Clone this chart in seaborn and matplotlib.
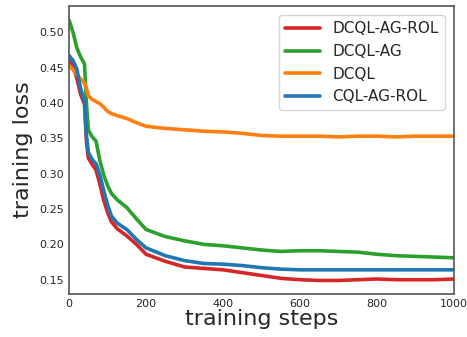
import pandas as pd
import seaborn as sns
import matplotlib.pyplot as plt

sns.set_style("white")
plt.rcParams['font.family'] = ['DejaVu Sans']

steps = [0, 10, 20, 30, 40, 45, 50, 60, 70, 80, 90, 100, 110, 125, 150, 175,
         200, 250, 300, 350, 400, 450, 500, 550, 600, 650, 700, 750, 800, 850,
         900, 950, 1000]

dcql_ag_rol = [0.463, 0.452, 0.435, 0.412, 0.398, 0.345, 0.322, 0.313, 0.305, 0.285,
               0.262, 0.245, 0.232, 0.222, 0.212, 0.200, 0.186, 0.176, 0.168, 0.166,
               0.164, 0.160, 0.156, 0.152, 0.150, 0.149, 0.149, 0.150, 0.151, 0.150,
               0.150, 0.150, 0.151]
dcql_ag = [0.517, 0.500, 0.478, 0.465, 0.455, 0.400, 0.362, 0.352, 0.346, 0.318,
           0.298, 0.283, 0.272, 0.263, 0.252, 0.236, 0.221, 0.211, 0.205, 0.200,
           0.198, 0.195, 0.192, 0.190, 0.191, 0.191, 0.190, 0.189, 0.186, 0.184,
           0.183, 0.182, 0.181]
dcql = [0.453, 0.447, 0.440, 0.434, 0.428, 0.420, 0.410, 0.405, 0.402, 0.399,
        0.394, 0.388, 0.385, 0.382, 0.378, 0.372, 0.367, 0.364, 0.362, 0.360,
        0.359, 0.357, 0.354, 0.353, 0.353, 0.353, 0.352, 0.353, 0.353, 0.352,
        0.353, 0.353, 0.353]
cql_ag_rol = [0.467, 0.460, 0.448, 0.420, 0.402, 0.355, 0.330, 0.320, 0.314, 0.298,
              0.276, 0.256, 0.240, 0.230, 0.221, 0.207, 0.195, 0.184, 0.177, 0.173,
              0.172, 0.170, 0.167, 0.165, 0.164, 0.164, 0.164, 0.164, 0.164, 0.164,
              0.164, 0.164, 0.164]

labels = ['DCQL-AG-ROL', 'DCQL-AG', 'DCQL', 'CQL-AG-ROL']
colors = ['#d62728', '#2ca02c', '#ff7f0e', '#1f77b4']

df = pd.concat([
    pd.DataFrame({'step': steps, 'loss': vals, 'method': name})
    for name, vals in zip(labels, [dcql_ag_rol, dcql_ag, dcql, cql_ag_rol])
])

fig = plt.figure(figsize=(4.67, 3.37), dpi=100)
ax = fig.add_axes([0.148, 0.128, 0.824, 0.854])
sns.lineplot(data=df, x='step', y='loss', hue='method', palette=colors,
             hue_order=labels, linewidth=2.6, ax=ax)
ax.set_xlim(0, 1000)
ax.set_ylim(0.13, 0.537)
ax.set_xticks([0, 200, 400, 600, 800, 1000])
ax.set_yticks([0.15, 0.20, 0.25, 0.30, 0.35, 0.40, 0.45, 0.50])
ax.tick_params(labelsize=8, length=0, pad=4)
ax.set_xlabel('training steps', fontsize=16, labelpad=0)
ax.set_ylabel('training loss', fontsize=16, labelpad=4)
for s in ax.spines.values():
    s.set_color('#555555')
    s.set_linewidth(1.2)
leg = ax.legend(loc='upper right', fontsize=11, handlelength=2.3,
                borderaxespad=0.6, title=None)
fig.savefig('out.png', dpi=100)
